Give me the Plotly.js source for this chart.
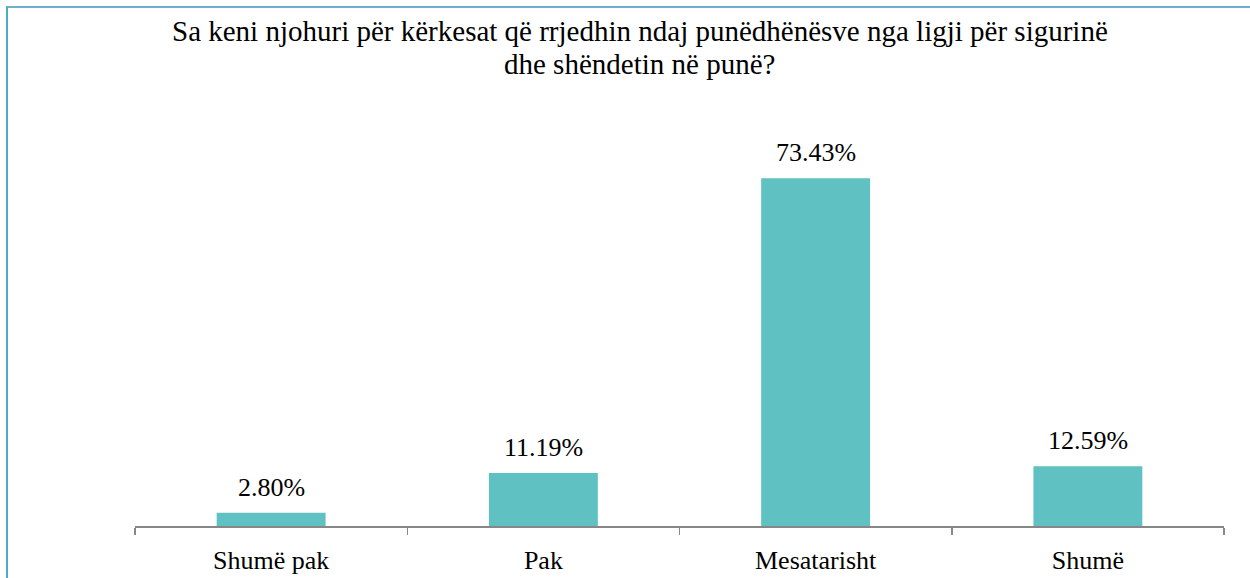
<!DOCTYPE html>
<html>
<head>
<meta charset="utf-8">
<script src="https://cdn.plot.ly/plotly-3.0.1.min.js"></script>
<style>
  html, body { margin: 0; padding: 0; background: #fff; }
  #wrap { position: relative; width: 1250px; height: 578px; overflow: hidden; }
  #chart { width: 1250px; height: 578px; }
  #frame { position: absolute; left: 6px; top: 6px; right: -4px; bottom: -4px;
           border-left: 2px solid #4BACC6; border-top: 2px solid #6FB0CE; pointer-events: none; }
</style>
</head>
<body>
<div id="wrap">
  <div id="chart"></div>
  <div id="frame"></div>
</div>
<script>
const categories = ["Shumë pak", "Pak", "Mesatarisht", "Shumë"];
const values = [2.80, 11.19, 73.43, 12.59];
const valueLabels = ["2.80%", "11.19%", "73.43%", "12.59%"];
const titleLines = [
  "Sa keni njohuri për kërkesat që rrjedhin ndaj punëdhënësve nga ligji për sigurinë",
  "dhe shëndetin në punë?"
];

const FONT = "'Liberation Serif', 'Times New Roman', serif";

const trace = {
  type: "bar",
  x: categories,
  y: values,
  marker: { color: "#5FC1C1" },
  hoverinfo: "skip"
};

const annotations = categories.map((c, i) => ({
  x: c, y: values[i], xref: "x", yref: "y",
  text: valueLabels[i], showarrow: false,
  yanchor: "bottom", yshift: 9,
  font: { family: FONT, size: 26, color: "#000" }
}));

titleLines.forEach((line, i) => {
  annotations.push({
    xref: "paper", yref: "paper",
    x: 0.4637, y: 1.3536, xanchor: "center", yanchor: "top",
    yshift: -33 * i,
    text: line, showarrow: false, align: "center",
    font: { family: FONT, size: 29, color: "#000" }
  });
});

const layout = {
  width: 1250, height: 578,
  margin: { l: 135, r: 26, t: 147, b: 52 },
  paper_bgcolor: "#fff", plot_bgcolor: "#fff",
  bargap: 0.6,
  showlegend: false,
  xaxis: {
    type: "category",
    showline: true, linecolor: "#878787", linewidth: 1.5,
    ticks: "outside", tickson: "boundaries", ticklen: 7, tickcolor: "#878787", tickwidth: 1.5,
    ticklabelstandoff: 10,
    tickfont: { family: FONT, size: 26, color: "#000" },
    showgrid: false, zeroline: false,
    fixedrange: true
  },
  yaxis: {
    range: [0, 80],
    visible: false, showgrid: false, zeroline: false, fixedrange: true
  },
  annotations: annotations
};

Plotly.newPlot("chart", [trace], layout, { displayModeBar: false, staticPlot: true });
</script>
</body>
</html>
